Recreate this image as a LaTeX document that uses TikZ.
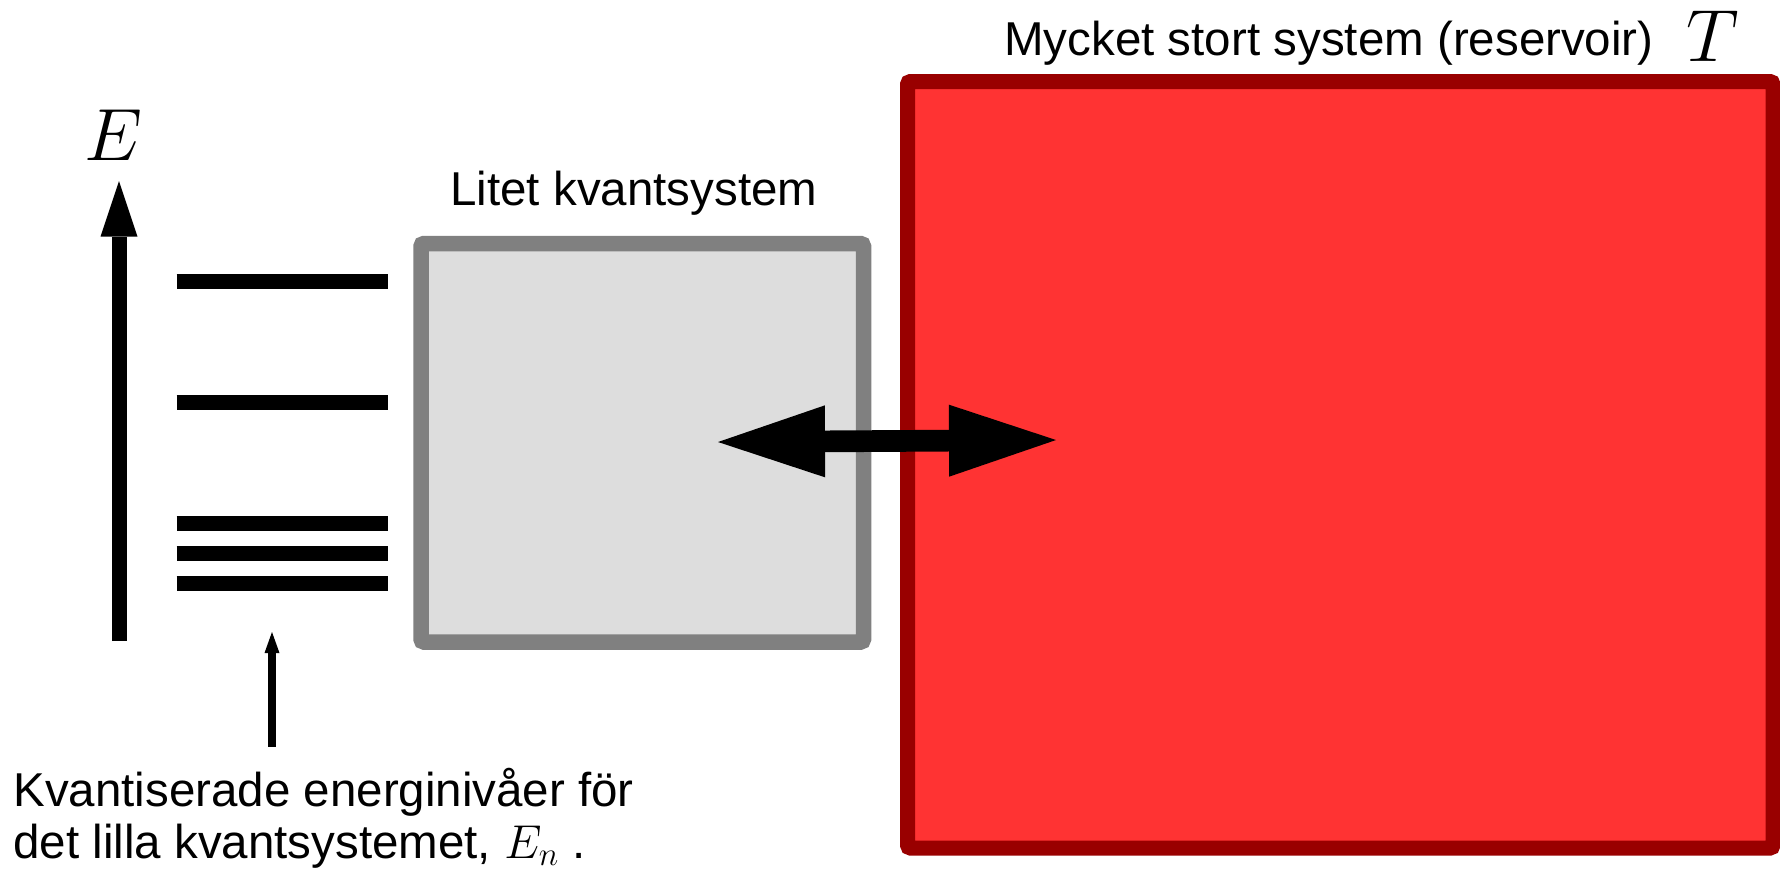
\documentclass[tikz,border=0pt]{standalone}
\usepackage{fix-cm}
\usepackage{fontspec}
\setmainfont{Liberation Sans}
\usetikzlibrary{arrows.meta}
\definecolor{resfill}{HTML}{FF3333}
\definecolor{resdraw}{HTML}{990000}
\definecolor{qfill}{HTML}{DDDDDD}
\definecolor{qdraw}{HTML}{808080}
\begin{document}
\begin{tikzpicture}[x=0.5pt,y=-0.5pt,
  lbl/.style={inner sep=0pt, font=\fontsize{23.75}{26}\selectfont},
  bigmath/.style={inner sep=0pt, font=\fontsize{37}{40}\selectfont},
  levelline/.style={line width=7.5pt},
  resbox/.style={draw=resdraw, fill=resfill, line width=7.5pt, rounded corners=1.5pt, inner sep=0pt},
  qbox/.style={draw=qdraw, fill=qfill, line width=7.75pt, rounded corners=1.5pt, inner sep=0pt},
  exarrow/.style={line width=10.85pt, {Triangle[length=53.5pt,width=36pt,line width=0pt]}-{Triangle[length=53.5pt,width=36pt,line width=0pt]}},
  eaxis/.style={line width=7.5pt, -{Triangle[length=27.75pt,width=18.5pt,line width=0pt]}},
  smallarrow/.style={line width=4pt, -{Triangle[length=10.5pt,width=7.5pt,line width=0pt]}},
]
\useasboundingbox (0,0) rectangle (1780,869);
% boxes
\node[resbox, minimum width=432.75pt, minimum height=383.25pt] (res) at (1340.25,464.75) {};
\node[qbox, minimum width=221.25pt, minimum height=199.25pt] (qs) at (642.25,442.75) {};
% labels
\node[lbl, anchor=base west] (qslabel) at (450,205) {Litet kvantsystem};
\node[lbl, anchor=base east] (reslabel) at (1654,55) {Mycket stort system (reservoir)};
\node[bigmath, anchor=base] (T) at (1713,61.5) {$T$};
\node[bigmath, anchor=base] (E) at (113,160) {$E$};
\node[lbl, anchor=base west] (bt1) at (13,806) {Kvantiserade energinivåer för};
\node[lbl, anchor=base west] (bt2) at (13,858) {det lilla kvantsystemet, $E_n$ .};
% energy axis
\coordinate (eb) at (119,641);
\coordinate (et) at (119,181);
\draw[eaxis] (eb) -- (et);
% levels
\foreach \y/\n in {281/l1,402/l2,523.5/l3,553.6/l4,583.7/l5}{
  \coordinate (\n a) at (176.5,\y);
  \coordinate (\n b) at (388,\y);
  \draw[levelline] (\n a) -- (\n b);
}
% small arrow
\coordinate (sa) at (272,746.5);
\coordinate (sb) at (272,632);
\draw[smallarrow] (sa) -- (sb);
% exchange arrow
\coordinate (xl) at (718,442);
\coordinate (xr) at (1056,440);
\draw[exarrow] (xl) -- (xr);
\end{tikzpicture}
\end{document}
